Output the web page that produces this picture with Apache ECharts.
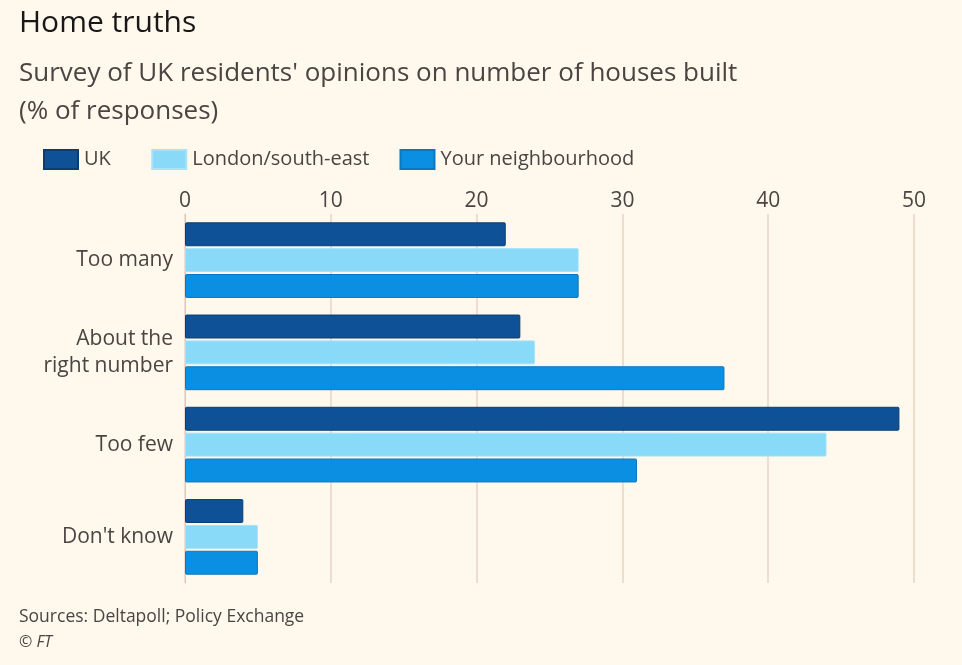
<!DOCTYPE html>
<html>
<head>
<meta charset="utf-8">
<title>Home truths</title>
<script src="https://cdn.jsdelivr.net/npm/echarts@6/dist/echarts.min.js"></script>
<style>
  html, body { margin: 0; padding: 0; background: #fef8ed; }
  #chart { width: 962px; height: 665px; }
</style>
</head>
<body>
<div id="chart"></div>
<script>
// survey answers, top to bottom
const categories = ['Too many', 'About the\nright number', 'Too few', "Don't know"];
const ukValues = [22, 23, 49, 4];
const londonValues = [27, 24, 44, 5];
const neighbourhoodValues = [27, 37, 31, 5];
const xTicks = [0, 10, 20, 30, 40, 50];

const FONT = '"Open Sans", Lato, sans-serif';
const TEXT = '#4a4542';

const chart = echarts.init(document.getElementById('chart'));

const barSeries = (name, data, color, border) => ({
  name,
  type: 'bar',
  data,
  barGap: '8%',
  barCategoryGap: '18%',
  itemStyle: { color, borderColor: border, borderWidth: 1, borderRadius: 1 },
  emphasis: { disabled: true },
});

const option = {
  backgroundColor: '#fef8ed',
  animation: false,
  textStyle: { fontFamily: FONT },
  title: [
    {
      text: 'Home truths',
      left: 14,
      top: 3,
      textStyle: { fontSize: 30, fontWeight: 'normal', color: '#1a1817', fontFamily: FONT },
    },
    {
      text: "Survey of UK residents' opinions on number of houses built\n(% of responses)",
      left: 14,
      top: 50,
      textStyle: { fontSize: 26, fontWeight: 'normal', color: TEXT, lineHeight: 38, fontFamily: FONT },
    },
    {
      text: 'Sources: Deltapoll; Policy Exchange',
      left: 14,
      top: 603,
      textStyle: { fontSize: 17.5, fontWeight: 'normal', color: TEXT, fontFamily: FONT },
    },
    {
      text: '© FT',
      left: 14,
      top: 629,
      textStyle: { fontSize: 16, fontWeight: 'normal', fontStyle: 'italic', color: TEXT, fontFamily: FONT },
    },
  ],
  legend: {
    left: 38,
    top: 144,
    itemWidth: 34,
    itemHeight: 19,
    itemGap: 30,
    icon: 'rect',
    // the short "UK" entry gets a little extra room after it, as in the original
    formatter: name => (name === 'UK' ? name + '\u00a0\u00a0' : name),
    textStyle: { fontSize: 20, color: TEXT, fontFamily: FONT, padding: [0, 0, 0, 1] },
    data: ['UK', 'London/south-east', 'Your neighbourhood'],
  },
  grid: { left: 185, right: 48, top: 214, bottom: 82, containLabel: false },
  xAxis: {
    type: 'value',
    position: 'top',
    min: xTicks[0],
    max: xTicks[xTicks.length - 1],
    interval: 10,
    axisLine: { show: false },
    axisTick: { show: false },
    axisLabel: { fontSize: 21, color: TEXT, margin: 2, fontFamily: FONT },
    splitLine: { lineStyle: { color: '#f0ddd2', width: 2 } },
  },
  yAxis: {
    type: 'category',
    inverse: true,
    data: categories,
    axisLine: { show: true, lineStyle: { color: '#d9cbbf', width: 1 } },
    axisTick: { show: false },
    axisLabel: { fontSize: 21, color: TEXT, margin: 12, lineHeight: 27, align: 'right', fontFamily: FONT },
  },
  series: [
    barSeries('UK', ukValues, '#0f5196', '#0a3d73'),
    barSeries('London/south-east', londonValues, '#89d9f8', '#a6e2f8'),
    barSeries('Your neighbourhood', neighbourhoodValues, '#0a8fe2', '#0a78c0'),
  ],
};

chart.setOption(option);
</script>
</body>
</html>
